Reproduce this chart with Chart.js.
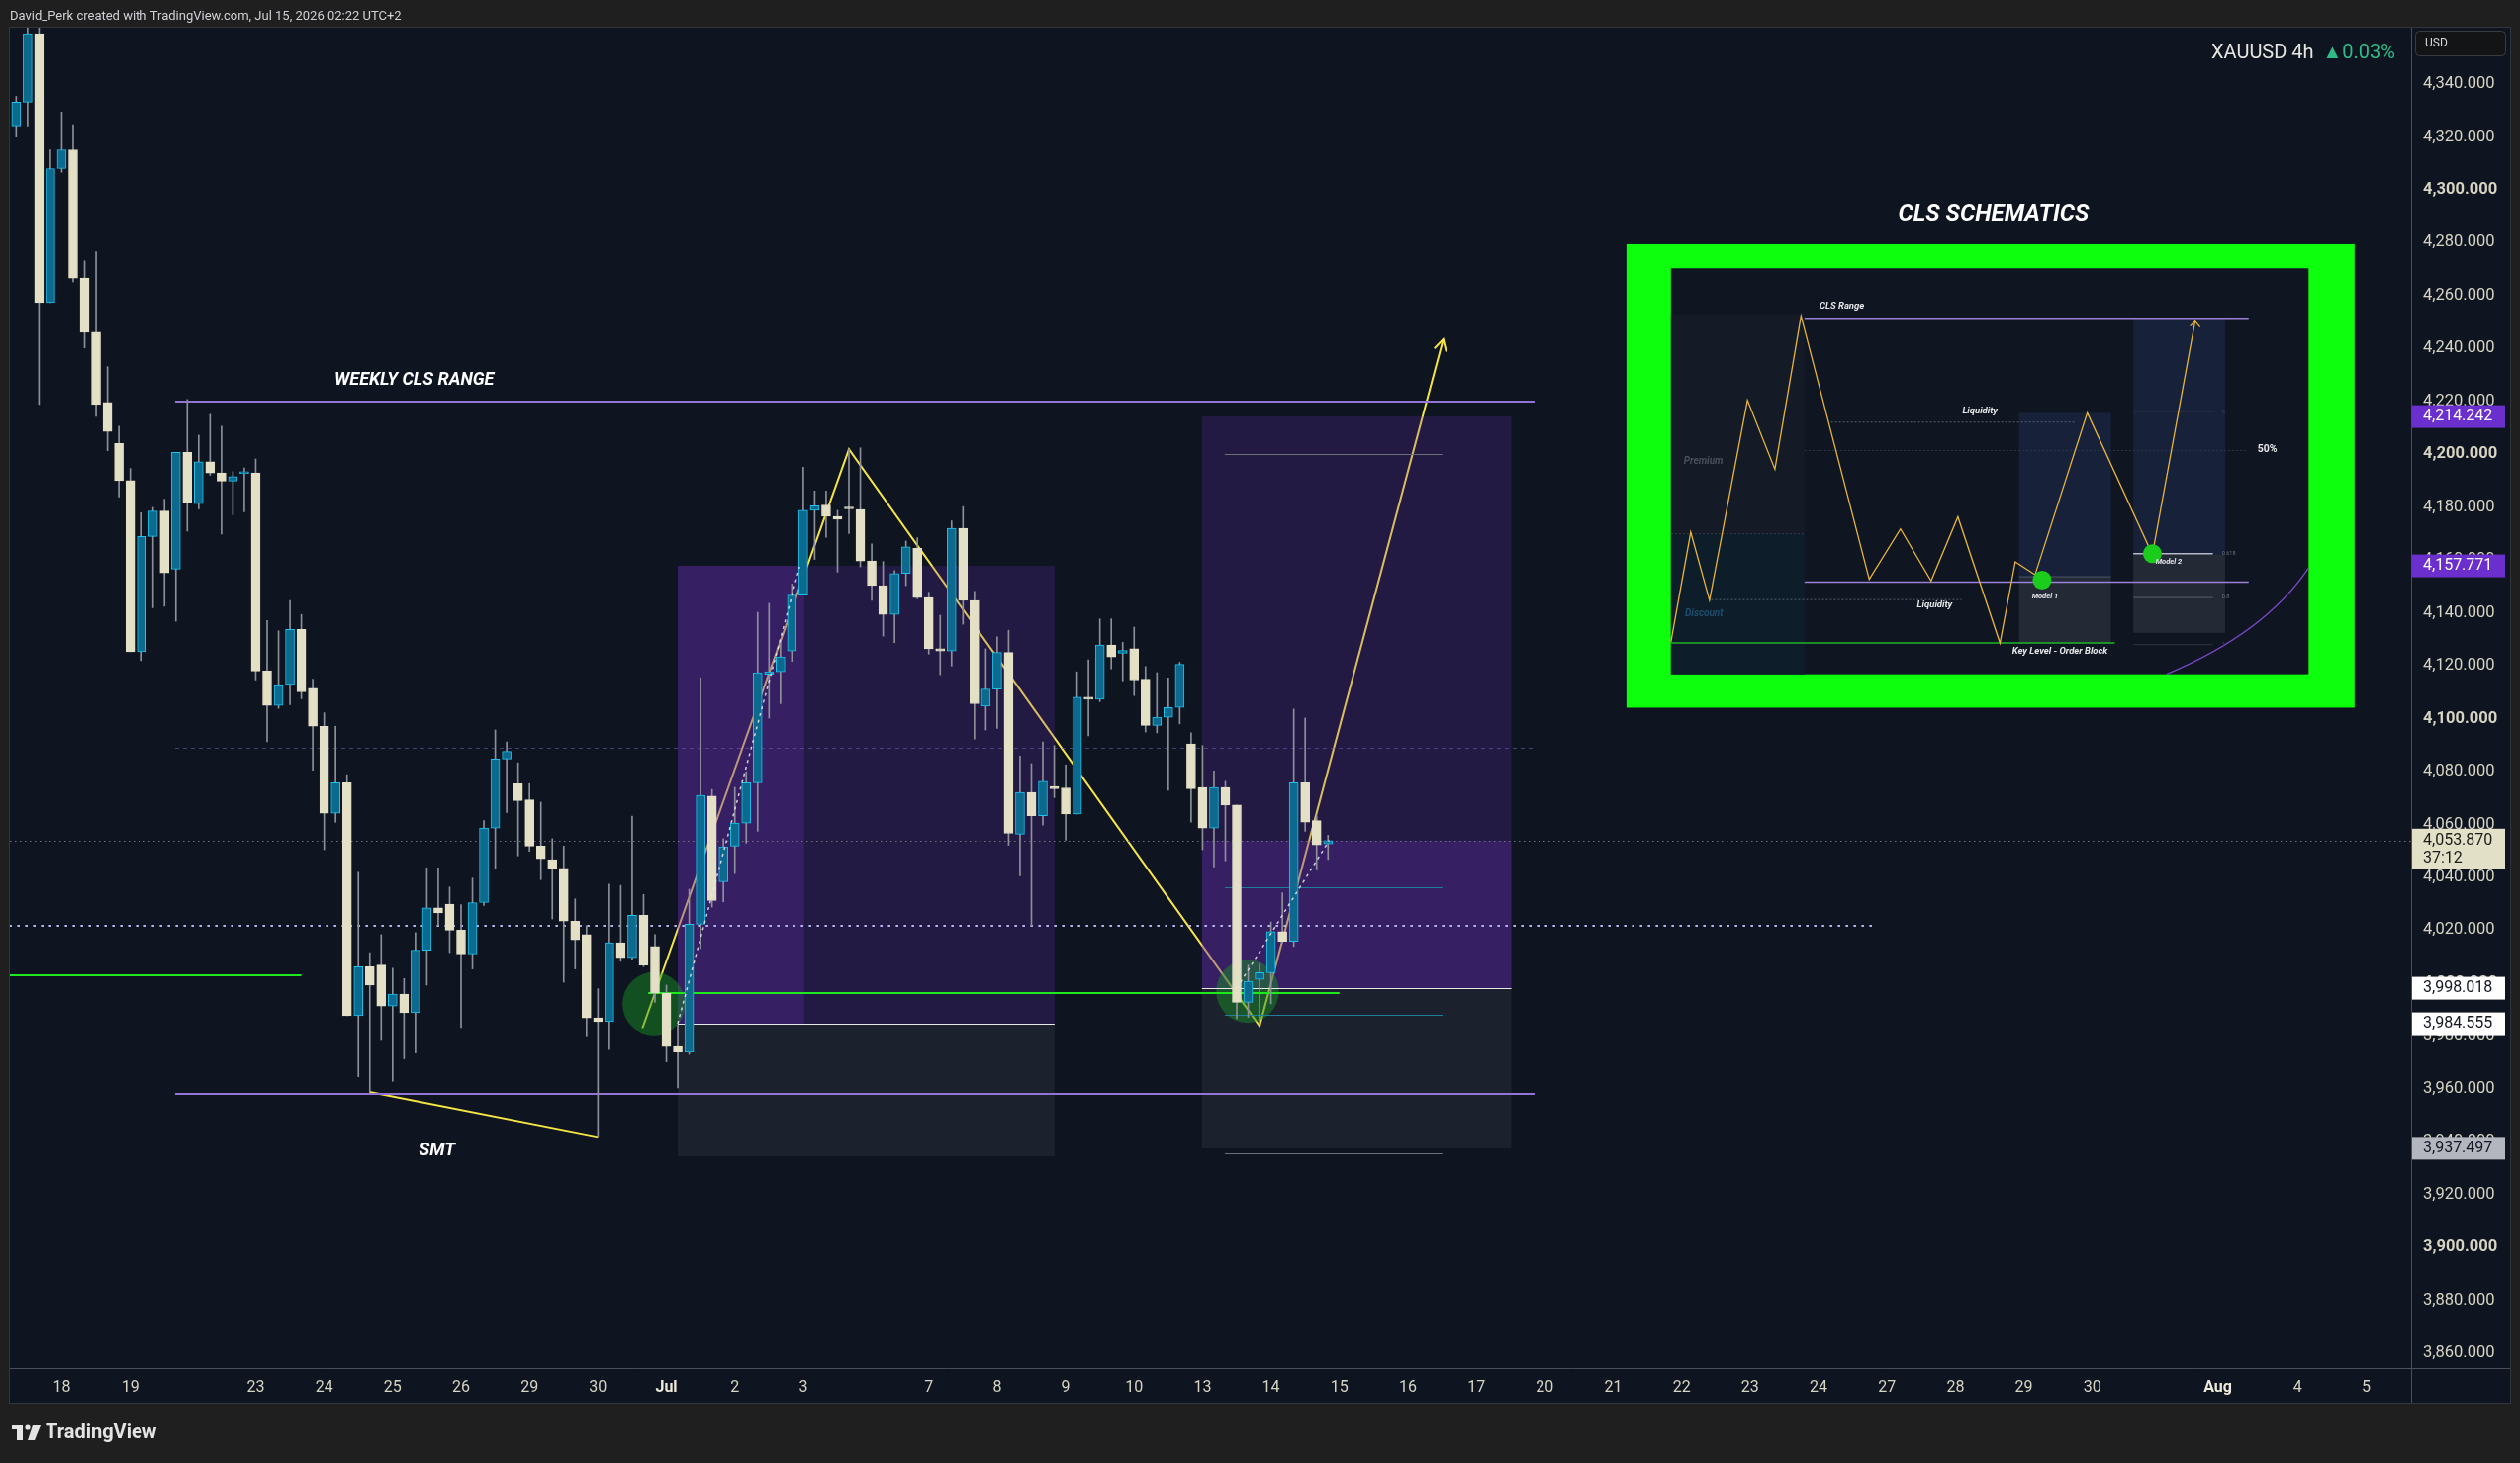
<!DOCTYPE html>
<html>
  <head>
    <style>
      body { margin: 0; background: #1f1f1f; }
      #chart-container { position: relative; width: 2547px; height: 1479px; }
    </style>
  </head>
  <body>
    <div id="chart-container">
      <canvas id="chart" width="2547" height="1479"></canvas>
    </div>

    <script src="https://cdn.jsdelivr.net/npm/chart.js"></script>
    <script>
      // XAUUSD 4h candles, one entry per bar (bar index = position on the x axis)
      const opens = [
        4324.1,4333.1,4359.0,4257.3,4308.0,4315.1,4266.6,4246.1,4219.6,4204.1,
        4190.0,4125.3,4168.9,4178.5,4156.5,4200.7,4181.3,4197.1,4192.9,4189.8,
        4192.6,4192.9,4118.0,4105.0,4112.9,4133.7,4111.5,4097.1,4064.2,4075.7,
        3987.6,4006.2,4006.8,3991.3,3995.8,3988.7,4012.4,4028.4,4029.8,4020.0,
        4011.0,4030.4,4058.6,4084.7,4075.4,4069.3,4051.8,4046.7,4043.4,4023.4,
        4018.3,3986.8,3985.4,4015.2,4009.6,4025.6,4013.8,3996.1,3976.3,3974.1,
        4022.2,4070.7,4038.3,4051.8,4060.5,4075.7,4116.8,4117.7,4125.6,4146.7,
        4178.8,4180.8,4176.5,4179.9,4179.1,4159.6,4150.3,4139.4,4154.9,4164.4,
        4145.8,4126.4,4125.6,4172.0,4144.7,4104.7,4111.2,4125.0,4056.3,4072.1,
        4063.3,4074.3,4073.8,4063.9,4108.1,4107.3,4127.8,4124.7,4126.4,4114.9,
        4097.4,4100.5,4104.2,4090.4,4074.0,4058.6,4074.0,4067.3,3992.7,4001.4,
        4003.9,4019.4,4015.8,4075.7,4061.4,4052.6
      ];
      const highs = [
        4335.3,4363.0,4363.0,4315.1,4329.4,4324.6,4273.1,4276.5,4233.1,4210.6,
        4194.6,4177.9,4179.9,4183.0,4200.7,4220.7,4207.2,4215.1,4210.6,4193.4,
        4194.8,4198.2,4137.1,4133.2,4144.7,4139.4,4114.9,4102.2,4097.1,4078.8,
        4041.9,4011.5,4018.3,4005.6,4001.7,4019.1,4043.6,4043.6,4036.3,4029.6,
        4039.7,4061.4,4095.7,4091.2,4083.3,4075.4,4068.4,4054.6,4051.8,4031.8,
        4021.7,3997.8,4037.4,4036.9,4063.1,4033.5,4018.3,3999.2,3984.2,4035.5,
        4115.4,4073.2,4054.6,4074.0,4079.9,4140.2,4143.6,4129.2,4150.9,4195.1,
        4186.1,4186.1,4178.8,4201.9,4202.4,4166.1,4159.4,4156.0,4167.2,4168.4,
        4147.8,4139.1,4174.8,4180.2,4148.1,4126.4,4130.9,4133.4,4085.8,4083.0,
        4091.2,4089.8,4082.5,4117.7,4122.2,4137.7,4137.7,4128.9,4134.6,4119.7,
        4117.4,4115.4,4121.3,4094.6,4089.8,4080.2,4076.3,4067.3,4006.8,4007.3,
        4023.1,4034.1,4103.6,4100.2,4063.3,4055.9
      ];
      const lows = [
        4320.1,4324.1,4218.8,4257.3,4306.6,4265.2,4240.2,4214.3,4201.3,4183.8,
        4125.3,4121.9,4141.9,4142.5,4136.8,4170.9,4179.3,4192.0,4169.8,4177.1,
        4178.2,4114.6,4091.2,4103.9,4105.3,4107.5,4080.5,4050.4,4060.8,3987.6,
        3964.5,3958.9,3978.6,3962.8,3971.3,3973.5,3999.2,4021.7,4011.5,3983.1,
        4005.3,4029.3,4043.4,4064.5,4048.1,4049.8,4039.1,4024.2,4000.3,4005.3,
        3980.0,3942.0,3975.2,4008.2,4009.0,4006.2,3992.7,3970.1,3960.3,3973.0,
        4013.0,4028.7,4030.7,4041.4,4052.9,4057.4,4100.2,4105.6,4121.6,4146.7,
        4160.2,4168.6,4155.4,4170.0,4157.4,4144.7,4131.2,4128.7,4150.3,4145.3,
        4124.4,4116.6,4119.9,4135.7,4092.3,4095.7,4096.3,4052.1,4040.5,4021.7,
        4059.7,4070.1,4054.0,4063.9,4093.5,4106.4,4118.8,4114.3,4108.7,4094.9,
        4094.6,4072.9,4098.0,4060.8,4050.4,4043.9,4046.2,3986.5,3987.0,3984.6,
        3992.1,4015.2,4013.8,4057.4,4042.8,4046.7
      ];
      const closes = [
        4333.1,4359.0,4257.3,4308.0,4315.1,4266.6,4246.1,4218.8,4208.6,4190.0,
        4125.3,4168.9,4178.5,4155.1,4200.7,4181.6,4197.1,4192.9,4189.8,4191.5,
        4193.1,4118.0,4105.0,4112.9,4133.7,4110.1,4097.1,4064.2,4075.7,3987.6,
        4006.2,3999.2,3991.3,3995.8,3988.7,4012.4,4028.4,4026.5,4020.0,4011.0,
        4030.4,4058.6,4084.7,4087.6,4069.0,4051.8,4047.0,4043.4,4023.4,4016.3,
        3986.8,3985.4,4015.2,4009.6,4025.6,4006.8,3996.1,3976.3,3974.1,4022.2,
        4071.0,4031.2,4051.5,4060.5,4075.7,4117.4,4117.7,4123.3,4146.7,4178.8,
        4180.5,4176.5,4175.4,4179.3,4159.6,4150.3,4139.4,4154.9,4165.0,4145.8,
        4126.4,4125.6,4172.0,4144.7,4105.6,4111.2,4125.0,4056.6,4072.1,4063.3,
        4076.3,4073.5,4063.9,4108.1,4107.3,4127.8,4123.3,4125.8,4114.6,4097.4,
        4100.5,4104.2,4120.5,4073.5,4058.6,4074.0,4067.3,3992.7,4000.6,4003.9,
        4019.4,4015.8,4075.7,4060.8,4052.2,4053.9
      ];

      // x axis: day labels sit on these bar indexes (future days continue the 6-bars-per-day grid)
      const xTickIdx = [4,10,21,27,33,39,45,51,57,63,69,80,86,92,98,104,110,116,122,128,134,140,146,152,158,164,170,176,182,193,200,206];
      const xTickLabels = ['18','19','23','24','25','26','29','30','Jul','2','3','7','8','9','10','13','14','15','16','17','20','21','22','23','24','27','28','29','30','Aug','4','5'];

      // y axis
      const yTicks = [];
      for (let v = 3860; v <= 4340; v += 20) yTicks.push(v);

      // price tags on the axis
      const tagPrices = [4214.242, 4157.771, 4053.870, 3998.018, 3984.555, 3937.497];
      const tagFills  = ['#6a2fcc', '#6a2fcc', '#e2e0c6', '#ffffff', '#ffffff', '#b4b6bf'];
      const tagInk    = ['#ffffff', '#ffffff', '#1c1c1c', '#131722', '#131722', '#131722'];
      const lastPrice = 4053.870;

      // drawings (bar index, price)
      const rangeTop = 4219.9, rangeBottom = 3958.0, rangeMid = 4089.0;
      const rangeFrom = 13.93, rangeTo = 133.1;
      const zigX = [54.9, 73.0, 109.0, 125.1];
      const zigY = [3982.9, 4201.9, 3983.7, 4243.5];
      const smtX = [30.97, 51.0];
      const smtY = [3958.8, 3941.8];
      const greenLeft = { from: -0.6, to: 25.0, price: 4002.8 };
      const greenMid = { from: 55.4, to: 116.0, price: 3996.3 };
      const lavenderDotted = { from: -0.6, to: 162.8, price: 4021.7 };

      // long position tools: left/right bar, split bar, target, entry, stop
      const posLeft  = { x0: 57.99, x1: 91.03, xs: 69.09, target: 4157.771, entry: 3984.555, stop: 3934.4 };
      const posRight = { x0: 103.95, x1: 131.07, target: 4214.242, entry: 3998.018, stop: 3937.497 };
      const fibFrom = 105.95, fibTo = 125.03;
      const fibLevels = [4199.9, 4036.3, 3988.1, 3935.6];
      const fibColors = ['#6b6f7a', '#1f7f99', '#1f7f99', '#6b6f7a'];
      const dashLeft  = [[57.99, 3984.6], [68.68, 4157.4]];
      const dashRight = [[107.0, 3998.0], [115.1, 4053.9]];
      const circles = [[55.9, 3992.1], [107.95, 3996.9]];

      // CLS schematic picture placed on the chart (bar index / price box), inner content in 0..100 units
      const insetFrame = [141.16, 204.99, 4279.39, 4104.12];
      const insetInner = [145.06, 200.96, 4270.30, 4116.77];
      const schemaU = [0, 3.1, 6.05, 12.0, 16.3, 20.4, 31.1, 36.0, 40.8, 45.0, 51.6, 54.0, 57.1, 65.3, 75.5, 82.2];
      const schemaV = [92.0, 65.0, 81.8, 32.5, 49.5, 11.7, 76.6, 64.2, 77.0, 61.2, 92.3, 72.3, 75.5, 35.6, 70.5, 13.0];

      const UP_FILL = '#0c6a8e', UP_LINE = '#1cc3ec', DN_FILL = '#e3e0c6', WICK = '#8d9099';
      const BG = '#0e1420';

      const idx = opens.map((_, i) => i);
      const isUp = idx.map(i => closes[i] >= opens[i]);

      function fmt(v) {
        return v.toLocaleString('en-US', { minimumFractionDigits: 3, maximumFractionDigits: 3 });
      }

      const drawings = {
        id: 'drawings',
        beforeDraw(chart) {
          const ctx = chart.ctx;
          ctx.save();
          ctx.fillStyle = '#1f1f1f';
          ctx.fillRect(0, 0, chart.width, chart.height);
          ctx.fillStyle = BG;
          ctx.fillRect(10, 28, 2527, 1390);
          ctx.restore();
        },
        beforeDatasetsDraw(chart) {
          const ctx = chart.ctx, xs = chart.scales.x, ys = chart.scales.y, a = chart.chartArea;
          const X = v => xs.getPixelForValue(v), Y = v => ys.getPixelForValue(v);
          ctx.save();
          ctx.beginPath();
          ctx.rect(a.left, a.top, a.right - a.left, a.bottom - a.top);
          ctx.clip();

          // yellow path (drawn under the boxes)
          ctx.strokeStyle = '#f6e445';
          ctx.lineWidth = 2;
          ctx.beginPath();
          zigX.forEach((x, i) => i ? ctx.lineTo(X(x), Y(zigY[i])) : ctx.moveTo(X(x), Y(zigY[i])));
          ctx.stroke();
          ctx.beginPath();
          ctx.moveTo(X(smtX[0]), Y(smtY[0]));
          ctx.lineTo(X(smtX[1]), Y(smtY[1]));
          ctx.stroke();

          // position boxes
          const box = (x0, x1, p0, p1, c) => {
            ctx.fillStyle = c;
            ctx.fillRect(X(x0), Y(p0), X(x1) - X(x0), Y(p1) - Y(p0));
          };
          const dim = 'rgba(112,48,192,0.22)', bright = 'rgba(112,48,192,0.42)', loss = 'rgba(110,116,132,0.14)';
          box(posLeft.x0, posLeft.xs, posLeft.target, posLeft.entry, bright);
          box(posLeft.xs, posLeft.x1, posLeft.target, posLeft.entry, dim);
          box(posLeft.x0, posLeft.x1, posLeft.entry, posLeft.stop, loss);
          box(posRight.x0, posRight.x1, posRight.target, lastPrice, dim);
          box(posRight.x0, posRight.x1, lastPrice, posRight.entry, bright);
          box(posRight.x0, posRight.x1, posRight.entry, posRight.stop, loss);

          // circles
          ctx.fillStyle = 'rgba(24,150,36,0.45)';
          circles.forEach(c => {
            ctx.beginPath();
            ctx.ellipse(X(c[0]), Y(c[1]), X(c[0] + 2.75) - X(c[0]), Y(c[1]) - Y(c[1] + 12), 0, 0, Math.PI * 2);
            ctx.fill();
          });

          const hline = (x0, x1, p, color, w, dash) => {
            ctx.strokeStyle = color;
            ctx.lineWidth = w;
            ctx.setLineDash(dash || []);
            ctx.beginPath();
            ctx.moveTo(X(x0), Math.round(Y(p)) + (w % 2 ? 0.5 : 0));
            ctx.lineTo(X(x1), Math.round(Y(p)) + (w % 2 ? 0.5 : 0));
            ctx.stroke();
            ctx.setLineDash([]);
          };
          hline(rangeFrom, rangeTo, rangeMid, 'rgba(110,100,190,0.55)', 1, [4, 4]);
          hline(xs.min, xs.max, lastPrice, '#6f737d', 1, [1.5, 3.5]);
          hline(lavenderDotted.from, lavenderDotted.to, lavenderDotted.price, '#b9b6f6', 2, [2.5, 5.5]);
          hline(posLeft.x0, posLeft.x1, posLeft.entry, '#e8e8e8', 1);
          hline(posRight.x0, posRight.x1, posRight.entry, '#e8e8e8', 1);
          fibLevels.forEach((p, i) => hline(fibFrom, fibTo, p, fibColors[i], 1));
          hline(rangeFrom, rangeTo, rangeTop, '#9274d6', 2);
          hline(rangeFrom, rangeTo, rangeBottom, '#9274d6', 2);
          hline(greenLeft.from, greenLeft.to, greenLeft.price, '#1ee81e', 2);
          hline(greenMid.from, greenMid.to, greenMid.price, '#1ee81e', 2);
          ctx.restore();
        },
        afterDatasetsDraw(chart) {
          const ctx = chart.ctx, xs = chart.scales.x, ys = chart.scales.y, a = chart.chartArea;
          const X = v => xs.getPixelForValue(v), Y = v => ys.getPixelForValue(v);
          ctx.save();
          ctx.beginPath();
          ctx.rect(a.left, a.top, a.right - a.left, a.bottom - a.top);
          ctx.clip();

          // dashed entry -> price lines
          ctx.strokeStyle = 'rgba(235,235,240,0.85)';
          ctx.lineWidth = 1.5;
          ctx.setLineDash([3, 4]);
          [dashLeft, dashRight].forEach(d => {
            ctx.beginPath();
            ctx.moveTo(X(d[0][0]), Y(d[0][1]));
            ctx.lineTo(X(d[1][0]), Y(d[1][1]));
            ctx.stroke();
          });
          ctx.setLineDash([]);

          // arrow head on the yellow path
          const n = zigX.length - 1;
          const tx = X(zigX[n]), ty = Y(zigY[n]);
          const ang = Math.atan2(ty - Y(zigY[n - 1]), tx - X(zigX[n - 1]));
          ctx.strokeStyle = '#f6e445';
          ctx.lineWidth = 2;
          ctx.beginPath();
          ctx.moveTo(tx - 13 * Math.cos(ang - 0.5), ty - 13 * Math.sin(ang - 0.5));
          ctx.lineTo(tx, ty);
          ctx.lineTo(tx - 13 * Math.cos(ang + 0.5), ty - 13 * Math.sin(ang + 0.5));
          ctx.stroke();

          // labels
          ctx.fillStyle = '#ffffff';
          ctx.textAlign = 'center';
          ctx.textBaseline = 'middle';
          ctx.font = 'italic bold 18px Roboto';
          ctx.fillText('WEEKLY CLS RANGE', X(34.9), Y(4228.0));
          ctx.fillText('SMT', X(36.9), Y(3936.5));

          drawInset(chart, X, Y);
          ctx.restore();
        },
        afterDraw(chart) {
          const ctx = chart.ctx, ys = chart.scales.y, a = chart.chartArea;
          ctx.save();
          // axis borders
          ctx.strokeStyle = '#4c4f58';
          ctx.lineWidth = 1;
          ctx.beginPath();
          ctx.moveTo(a.right + 0.5, 28); ctx.lineTo(a.right + 0.5, 1418);
          ctx.moveTo(10, a.bottom + 0.5); ctx.lineTo(2537, a.bottom + 0.5);
          ctx.stroke();
          ctx.strokeStyle = '#33353b';
          ctx.strokeRect(9.5, 27.5, 2528, 1391);

          // price tags
          ctx.textBaseline = 'middle';
          ctx.textAlign = 'left';
          ctx.font = '16px Roboto';
          tagPrices.forEach((p, i) => {
            const y = ys.getPixelForValue(p);
            const two = p === lastPrice;
            ctx.fillStyle = tagFills[i];
            ctx.fillRect(a.right + 1, two ? y - 12 : y - 11.5, 94, two ? 41 : 23);
            ctx.fillStyle = tagInk[i];
            ctx.fillText(fmt(p), 2449, y);
            if (two) ctx.fillText('37:12', 2449, y + 18);
          });

          // USD box
          ctx.fillStyle = '#131416';
          ctx.strokeStyle = '#3a3c42';
          ctx.beginPath();
          ctx.roundRect(2441.5, 31.5, 91, 25, 4);
          ctx.fill();
          ctx.stroke();
          ctx.fillStyle = '#d8d8d8';
          ctx.font = '12px Roboto';
          ctx.fillText('USD', 2451, 44);

          // symbol title
          ctx.font = '20px Roboto';
          ctx.textAlign = 'right';
          ctx.fillStyle = '#2ebd85';
          ctx.fillText('\u25B20.03%', 2421, 54);
          const w = ctx.measureText('\u25B20.03%').width;
          ctx.fillStyle = '#e6e6e0';
          ctx.fillText('XAUUSD 4h', 2421 - w - 9, 54);

          // header
          ctx.textAlign = 'left';
          ctx.fillStyle = '#cfd1d6';
          ctx.font = '13px Roboto';
          ctx.fillText('David_Perk created with TradingView.com, Jul 15, 2026 02:22 UTC+2', 10, 17);

          // footer logo
          ctx.fillStyle = '#e4e4e4';
          ctx.fillRect(12, 1441, 11, 4);
          ctx.fillRect(17, 1441, 6, 15);
          ctx.beginPath();
          ctx.arc(28, 1443, 2.6, 0, Math.PI * 2);
          ctx.fill();
          ctx.beginPath();
          ctx.moveTo(33, 1441); ctx.lineTo(41, 1441); ctx.lineTo(35, 1456); ctx.lineTo(28, 1456);
          ctx.closePath();
          ctx.fill();
          ctx.font = 'bold 20px Roboto';
          ctx.fillText('TradingView', 46, 1449);
          ctx.restore();
        }
      };

      function drawInset(chart, X, Y) {
        const ctx = chart.ctx;
        const P = (u, v) => [
          X(insetInner[0] + (insetInner[1] - insetInner[0]) * u / 100),
          Y(insetInner[2] - (insetInner[2] - insetInner[3]) * v / 100)
        ];
        const rect = (u0, v0, u1, v1, c) => {
          const p0 = P(u0, v0), p1 = P(u1, v1);
          ctx.fillStyle = c;
          ctx.fillRect(p0[0], p0[1], p1[0] - p0[0], p1[1] - p0[1]);
        };
        const line = (u0, v0, u1, v1, c, w, dash) => {
          const p0 = P(u0, v0), p1 = P(u1, v1);
          ctx.strokeStyle = c; ctx.lineWidth = w; ctx.setLineDash(dash || []);
          ctx.beginPath(); ctx.moveTo(p0[0], p0[1]); ctx.lineTo(p1[0], p1[1]); ctx.stroke();
          ctx.setLineDash([]);
        };
        const text = (s, u, v, c, f) => {
          const p = P(u, v);
          ctx.fillStyle = c; ctx.font = f; ctx.fillText(s, p[0], p[1]);
        };

        // title
        ctx.fillStyle = '#ffffff';
        ctx.font = 'italic bold 24px Roboto';
        ctx.textAlign = 'center';
        ctx.fillText('CLS SCHEMATICS', X(173.34), Y(4290.5));

        // green frame + picture background
        ctx.fillStyle = '#0dff0d';
        ctx.fillRect(X(insetFrame[0]), Y(insetFrame[2]), X(insetFrame[1]) - X(insetFrame[0]), Y(insetFrame[3]) - Y(insetFrame[2]));
        rect(0, 0, 100, 100, '#0f1621');

        rect(0, 11.3, 20.95, 65.4, '#141b27');
        rect(0, 65.4, 20.95, 100, '#0d1d29');
        rect(54.6, 35.6, 69.0, 76.3, '#17223a');
        rect(54.6, 76.3, 69.0, 92.3, '#232a36');
        rect(72.5, 12.3, 86.9, 70.5, '#17223a');
        rect(72.5, 70.5, 86.9, 89.8, '#232a36');

        line(0, 65.4, 20.95, 65.4, '#3a4250', 1, [2, 2]);
        line(20.95, 44.9, 90.3, 44.9, '#2c3345', 1, [2, 2]);
        line(25.1, 37.9, 63.4, 37.9, '#5a6070', 1, [2, 2]);
        line(6.3, 81.6, 45.6, 81.6, '#5a6070', 1, [2, 2]);
        line(54.6, 76.0, 69.0, 76.0, '#3a4150', 2);
        line(72.5, 35.3, 85.0, 35.3, '#2e3544', 1);
        line(72.5, 70.3, 85.0, 70.3, '#b8bcc6', 1.5);
        line(72.5, 81.1, 85.0, 81.1, '#5b6170', 1);
        line(72.5, 92.7, 85.0, 92.7, '#2e3544', 1);
        line(20.95, 12.3, 90.6, 12.3, '#9b80d8', 1.5);
        line(20.95, 77.3, 90.6, 77.3, '#9b80d8', 1.5);
        line(0, 92.3, 69.6, 92.3, '#22b42a', 1.5);

        // price path
        ctx.strokeStyle = '#e7b43c';
        ctx.lineWidth = 1.3;
        ctx.beginPath();
        schemaU.forEach((u, i) => {
          const p = P(u, schemaV[i]);
          i ? ctx.lineTo(p[0], p[1]) : ctx.moveTo(p[0], p[1]);
        });
        ctx.stroke();
        const e = P(schemaU[schemaU.length - 1], schemaV[schemaV.length - 1]);
        ctx.beginPath();
        ctx.moveTo(e[0] - 5, e[1] + 5); ctx.lineTo(e[0], e[1]); ctx.lineTo(e[0] + 5, e[1] + 6);
        ctx.stroke();

        // purple curve
        const c0 = P(77.7, 100), c1 = P(93.2, 89.8), c2 = P(100, 73.8);
        ctx.strokeStyle = '#7b48c9';
        ctx.lineWidth = 1.3;
        ctx.beginPath();
        ctx.moveTo(c0[0], c0[1]);
        ctx.quadraticCurveTo(c1[0], c1[1], c2[0], c2[1]);
        ctx.stroke();

        // entry dots
        ctx.fillStyle = '#1ccc1c';
        [[58.2, 76.8], [75.5, 70.3]].forEach(d => {
          const p = P(d[0], d[1]);
          ctx.beginPath(); ctx.arc(p[0], p[1], 9.5, 0, Math.PI * 2); ctx.fill();
        });

        ctx.textAlign = 'left';
        text('CLS Range', 23.3, 9.4, '#e6e6ea', 'italic bold 9.5px Roboto');
        text('Premium', 2.0, 47.6, '#4a505c', 'italic bold 10px Roboto');
        text('Discount', 2.2, 85.2, '#1d4e6e', 'italic bold 10px Roboto');
        text('Liquidity', 45.7, 35.1, '#e6e6ea', 'italic bold 9.5px Roboto');
        text('Liquidity', 38.6, 82.9, '#e6e6ea', 'italic bold 9.5px Roboto');
        text('Key Level - Order Block', 53.5, 94.5, '#e6e6ea', 'italic bold 9.5px Roboto');
        text('Model 1', 56.6, 80.9, '#e6e6ea', 'italic bold 7.5px Roboto');
        text('Model 2', 76.0, 72.3, '#e6e6ea', 'italic bold 7.5px Roboto');
        text('50%', 92.0, 44.6, '#e6e6ea', 'bold 10.5px Roboto');
        text('0.618', 86.4, 70.3, '#6b7180', '5.5px Roboto');
        text('0.8', 86.4, 81.1, '#6b7180', '5.5px Roboto');
        text('0', 86.4, 35.3, '#3b4150', '5.5px Roboto');
        text('1', 86.4, 92.7, '#3b4150', '5.5px Roboto');
      }

      const chart = new Chart(document.getElementById('chart'), {
        type: 'bar',
        data: {
          datasets: [
            {
              data: idx.map(i => ({ x: i, y: [lows[i], highs[i]] })),
              backgroundColor: WICK,
              borderWidth: 0,
              barThickness: 1,
              grouped: false,
              order: 2
            },
            {
              data: idx.map(i => ({ x: i, y: [opens[i], closes[i]] })),
              backgroundColor: isUp.map(u => u ? UP_FILL : DN_FILL),
              borderColor: isUp.map(u => u ? UP_LINE : DN_FILL),
              borderWidth: 1,
              borderSkipped: false,
              barThickness: 9,
              minBarLength: 2,
              grouped: false,
              order: 1
            }
          ]
        },
        options: {
          responsive: false,
          devicePixelRatio: 1,
          animation: false,
          events: [],
          layout: { padding: { left: 10, right: 10, top: 28, bottom: 61 } },
          plugins: { legend: { display: false }, tooltip: { enabled: false } },
          scales: {
            x: {
              type: 'linear',
              min: -0.55,
              max: 209.95,
              offset: false,
              grid: { display: false, drawTicks: false },
              border: { display: false },
              afterBuildTicks: scale => { scale.ticks = xTickIdx.map(v => ({ value: v })); },
              afterFit: scale => { scale.height = 35; },
              ticks: {
                autoSkip: false,
                maxRotation: 0,
                padding: 10,
                color: ctx => ['Jul', 'Aug'].includes(xTickLabels[ctx.index]) ? '#eceadb' : '#d6d4c2',
                font: ctx => ({ family: 'Roboto', size: 16, weight: ['Jul', 'Aug'].includes(xTickLabels[ctx.index]) ? 'bold' : 'normal' }),
                callback: (value, index) => xTickLabels[index]
              }
            },
            y: {
              type: 'linear',
              position: 'right',
              min: 3854.4,
              max: 4361.3,
              grid: { display: false, drawTicks: false },
              border: { display: false },
              afterBuildTicks: scale => { scale.ticks = yTicks.map(v => ({ value: v })); },
              afterFit: scale => { scale.width = 100; },
              ticks: {
                padding: 12,
                color: '#d6d4c2',
                font: ctx => ({ family: 'Roboto', size: 16.5, weight: ctx.tick && ctx.tick.value % 100 === 0 ? 'bold' : 'normal' }),
                callback: value => fmt(value)
              }
            }
          }
        },
        plugins: [drawings]
      });
    </script>
  </body>
</html>
